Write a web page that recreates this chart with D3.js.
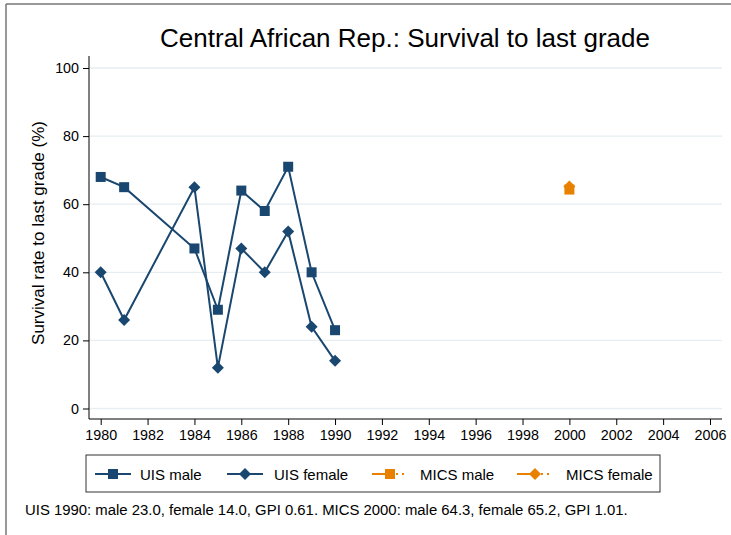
<!DOCTYPE html>
<html>
<head>
<meta charset="utf-8">
<script src="https://cdn.jsdelivr.net/npm/d3@7"></script>
<style>
  body { margin: 0; background: #fff; }
  text { font-family: "Liberation Sans", Arial, sans-serif; }
</style>
</head>
<body>
<div id="chart"></div>
<script>
const uisYears = [1980, 1981, 1984, 1985, 1986, 1987, 1988, 1989, 1990];
const uisMale = [68, 65, 47, 29, 64, 58, 71, 40, 23];
const uisFemale = [40, 26, 65, 12, 47, 40, 52, 24, 14];
const micsYears = [2000];
const micsMale = [64.3];
const micsFemale = [65.2];
const xTicks = d3.range(1980, 2007, 2);
const yTicks = [0, 20, 40, 60, 80, 100];
const legendLabels = ['UIS male', 'UIS female', 'MICS male', 'MICS female'];

const width = 731, height = 535;
const navy = '#1a476f', orange = '#e88000';

const svg = d3.select('#chart')
  .append('svg')
    .attr('width', width)
    .attr('height', height);

// outer frame (top and left edges visible)
svg.append('line').attr('x1', 6).attr('x2', width).attr('y1', 4).attr('y2', 4)
   .attr('stroke', '#777').attr('stroke-width', 1.5);
svg.append('line').attr('x1', 6).attr('x2', 6).attr('y1', 4).attr('y2', height)
   .attr('stroke', '#777').attr('stroke-width', 1.5);

const x = d3.scaleLinear().domain([1980, 2006]).range([100.7, 710]);
const y = d3.scaleLinear().domain([0, 100]).range([408.5, 68]);
const plotL = 89, plotR = 722, plotT = 56, plotB = 419;

// gridlines
svg.append('g')
  .selectAll('line')
  .data(yTicks)
  .enter()
    .append('line')
    .attr('x1', plotL).attr('x2', plotR)
    .attr('y1', d => y(d)).attr('y2', d => y(d))
    .attr('stroke', '#e6eef1').attr('stroke-width', 1.3);

// y axis
const yAxis = svg.append('g')
  .attr('transform', `translate(${plotL},0)`)
  .call(d3.axisLeft(y).tickValues(yTicks).tickSize(6).tickPadding(4));
yAxis.select('.domain').attr('d', `M0,${plotT}V${plotB}`);

// x axis
const xAxis = svg.append('g')
  .attr('transform', `translate(0,${plotB})`)
  .call(d3.axisBottom(x).tickValues(xTicks).tickFormat(d3.format('d')).tickSize(6).tickPadding(5));
xAxis.select('.domain').attr('d', `M${plotL},0H${plotR}`);

svg.selectAll('.tick text').attr('font-size', 14.3).attr('fill', '#000')
   .style('font-family', '"Liberation Sans", Arial, sans-serif');
svg.selectAll('.tick line').attr('stroke', '#000');
svg.selectAll('.domain').attr('stroke', '#000');

// title
svg.append('text')
  .attr('x', 405).attr('y', 47)
  .attr('text-anchor', 'middle')
  .attr('font-size', 26)
  .text('Central African Rep.: Survival to last grade');

// y axis title
svg.append('text')
  .attr('transform', 'translate(44,233) rotate(-90)')
  .attr('text-anchor', 'middle')
  .attr('font-size', 17)
  .text('Survival rate to last grade (%)');

const square = d3.symbol().type(d3.symbolSquare).size(100);
const diamond = d3.symbol().type(d3.symbolSquare).size(72);

function drawSeries(years, values, color, isDiamond) {
  const pts = years.map((yr, i) => [yr, values[i]]);
  const line = d3.line().x(d => x(d[0])).y(d => y(d[1]));
  svg.append('path')
    .datum(pts)
    .attr('d', line)
    .attr('fill', 'none')
    .attr('stroke', color)
    .attr('stroke-width', 2);
  svg.append('g')
    .selectAll('path')
    .data(pts)
    .enter()
      .append('path')
      .attr('d', isDiamond ? diamond : square)
      .attr('transform', d => `translate(${x(d[0])},${y(d[1])})` + (isDiamond ? ' rotate(45)' : ''))
      .attr('fill', color);
}

drawSeries(uisYears, uisMale, navy, false);
drawSeries(uisYears, uisFemale, navy, true);
drawSeries(micsYears, micsMale, orange, false);
drawSeries(micsYears, micsFemale, orange, true);

// legend
const legend = svg.append('g');
legend.append('rect')
  .attr('x', 86).attr('y', 455).attr('width', 574).attr('height', 37)
  .attr('fill', '#fff').attr('stroke', '#333').attr('stroke-width', 1);

const legendItems = [
  { x0: 95, tx: 140, color: navy, diamond: false, dotted: false },
  { x0: 227, tx: 274, color: navy, diamond: true, dotted: false },
  { x0: 372, tx: 420, color: orange, diamond: false, dotted: true },
  { x0: 517, tx: 566, color: orange, diamond: true, dotted: true }
];
const ly = 474;
legendItems.forEach((it, i) => {
  const g = legend.append('g');
  if (it.dotted) {
    g.append('line').attr('x1', it.x0).attr('x2', it.x0 + 18).attr('y1', ly).attr('y2', ly)
      .attr('stroke', it.color).attr('stroke-width', 2);
    g.append('line').attr('x1', it.x0 + 18).attr('x2', it.x0 + 36).attr('y1', ly).attr('y2', ly)
      .attr('stroke', it.color).attr('stroke-width', 2).attr('stroke-dasharray', '2,4');
  } else {
    g.append('line').attr('x1', it.x0).attr('x2', it.x0 + 36).attr('y1', ly).attr('y2', ly)
      .attr('stroke', it.color).attr('stroke-width', 2);
  }
  g.append('path')
    .attr('d', it.diamond ? diamond : square)
    .attr('transform', `translate(${it.x0 + 18},${ly})` + (it.diamond ? ' rotate(45)' : ''))
    .attr('fill', it.color);
  g.append('text')
    .attr('x', it.tx).attr('y', ly + 5.5)
    .attr('font-size', 15)
    .text(legendLabels[i]);
});

// footnote
svg.append('text')
  .attr('x', 25).attr('y', 515)
  .attr('font-size', 14.9)
  .text('UIS 1990: male 23.0, female 14.0, GPI 0.61. MICS 2000: male 64.3, female 65.2, GPI 1.01.');
</script>
</body>
</html>
